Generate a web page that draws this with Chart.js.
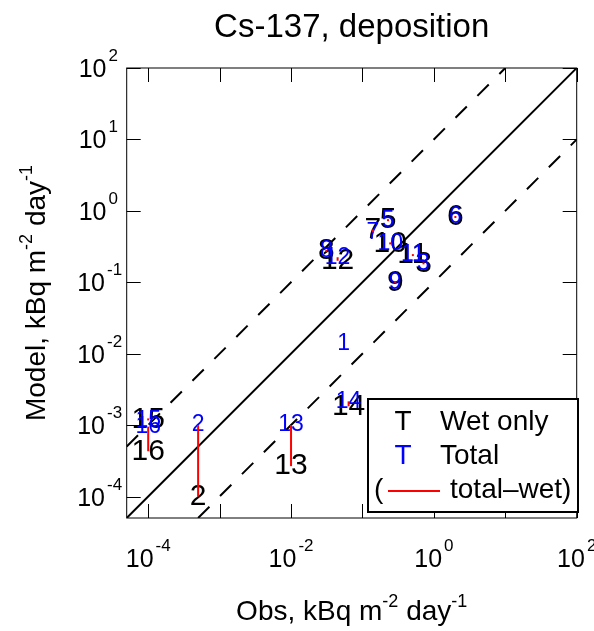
<!DOCTYPE html>
<html>
<head>
<meta charset="utf-8">
<script src="https://cdn.jsdelivr.net/npm/chart.js@4.4.0/dist/chart.umd.min.js"></script>
<style>
  html, body { margin: 0; padding: 0; background: #fff; }
</style>
</head>
<body>
<canvas id="chart" width="594" height="631"></canvas>
<script>
// station numbers and their obs / model deposition, kBq m-2 day-1
const stations = [1, 2, 3, 5, 6, 7, 8, 9, 10, 11, 12, 13, 14, 15, 16]
const obs = [0.0545, 5e-4, 0.716, 0.228, 2.0, 0.14, 0.0312, 0.288, 0.245, 0.508, 0.0449, 0.01, 0.064, 1e-4, 1e-4]
const modelWet = [null, 1e-4, 0.184, 0.74, 0.82, 0.55, 0.274, 0.1, 0.35, 0.24, 0.2, 2.66e-4, 1.83e-3, 1.2e-3, 4.3e-4]
const modelTotal = [0.0137, 1e-3, 0.184, 0.74, 0.82, 0.5, 0.274, 0.1, 0.35, 0.24, 0.224, 1e-3, 2.15e-3, 1.15e-3, 9.5e-4]

const axisRange = [5e-5, 100]
const tickDecades = [-4, -3, -2, -1, 0, 1, 2]
const xTickLabels = [-4, -2, 0, 2]
const yTickLabels = [-4, -3, -2, -1, 0, 1, 2]
const ratioLines = [1, 10, 0.1] // model = ratio * obs

const FONT = '"Liberation Sans", Arial, sans-serif'

// endpoints of a ratio line clipped to the axis box
function ratioLine (r) {
  const [lo, hi] = axisRange
  const x0 = Math.max(lo, lo / r)
  const x1 = Math.min(hi, hi / r)
  return [{ x: x0, y: x0 * r }, { x: x1, y: x1 * r }]
}

// "10" with a raised exponent
function powerWidth (ctx, exp, size, supSize, gap) {
  ctx.font = size + 'px ' + FONT
  const w1 = ctx.measureText('10').width
  ctx.font = supSize + 'px ' + FONT
  return w1 + gap + ctx.measureText(String(exp)).width
}
function drawPower (ctx, exp, x, y, size, supSize, raise, gap) {
  ctx.textAlign = 'left'
  ctx.textBaseline = 'alphabetic'
  ctx.font = size + 'px ' + FONT
  ctx.fillText('10', x, y)
  const w1 = ctx.measureText('10').width
  ctx.font = supSize + 'px ' + FONT
  ctx.fillText(String(exp), x + w1 + gap, y - raise)
}

// text pieces: [text, superscript?]
function drawRich (ctx, parts, cx, y, size, supSize, raise) {
  let total = 0
  parts.forEach(p => {
    ctx.font = (p[1] ? supSize : size) + 'px ' + FONT
    total += ctx.measureText(p[0]).width
  })
  let x = cx - total / 2
  ctx.textAlign = 'left'
  ctx.textBaseline = 'alphabetic'
  parts.forEach(p => {
    ctx.font = (p[1] ? supSize : size) + 'px ' + FONT
    ctx.fillText(p[0], x, p[1] ? y - raise : y)
    x += ctx.measureText(p[0]).width
  })
}

const decor = {
  id: 'decor',
  afterDatasetsDraw (chart) {
    const ctx = chart.ctx
    const xs = chart.scales.x
    const ys = chart.scales.y
    const area = chart.chartArea
    const wetMeta = chart.getDatasetMeta(3)
    const totMeta = chart.getDatasetMeta(4)

    ctx.save()
    // station labels: wet only (black, big) then total (blue)
    ctx.textAlign = 'center'
    ctx.textBaseline = 'middle'
    ctx.fillStyle = '#000'
    ctx.font = '30px ' + FONT
    stations.forEach((s, i) => {
      if (modelWet[i] == null) return
      const p = wetMeta.data[i]
      ctx.fillText(String(s), p.x, p.y)
    })
    ctx.fillStyle = '#0000ff'
    ctx.font = '23px ' + FONT
    stations.forEach((s, i) => {
      if (modelTotal[i] == null) return
      const p = totMeta.data[i]
      ctx.fillText(String(s), p.x, p.y)
    })
    // total - wet segments
    ctx.strokeStyle = '#ff0000'
    ctx.fillStyle = '#ff0000'
    ctx.lineWidth = 2
    stations.forEach((s, i) => {
      if (modelWet[i] == null || modelTotal[i] == null) return
      const a = wetMeta.data[i]
      const b = totMeta.data[i]
      if (Math.abs(a.y - b.y) < 2) {
        ctx.fillRect(a.x - 1, a.y - 1, 2, 2)
      } else {
        ctx.beginPath()
        ctx.moveTo(a.x, a.y)
        ctx.lineTo(b.x, b.y)
        ctx.stroke()
      }
    })

    // frame and inward ticks
    ctx.strokeStyle = '#000'
    ctx.lineWidth = 1
    ctx.strokeRect(area.left, area.top, area.right - area.left, area.bottom - area.top)
    ctx.beginPath()
    tickDecades.forEach(d => {
      const px = Math.round(xs.getPixelForValue(Math.pow(10, d))) + 0.5
      ctx.moveTo(px, area.bottom); ctx.lineTo(px, area.bottom - 14)
      ctx.moveTo(px, area.top); ctx.lineTo(px, area.top + 14)
      const py = Math.round(ys.getPixelForValue(Math.pow(10, d))) + 0.5
      ctx.moveTo(area.left, py); ctx.lineTo(area.left + 14, py)
      ctx.moveTo(area.right, py); ctx.lineTo(area.right - 14, py)
    })
    ctx.stroke()

    // tick labels
    ctx.fillStyle = '#000'
    xTickLabels.forEach(d => {
      const px = xs.getPixelForValue(Math.pow(10, d))
      const w = powerWidth(ctx, d, 25, 17, 2)
      drawPower(ctx, d, px - w / 2, 567, 25, 17, 16, 2)
    })
    ctx.font = '25px ' + FONT
    const w10 = ctx.measureText('10').width
    yTickLabels.forEach(d => {
      const py = ys.getPixelForValue(Math.pow(10, d))
      const right = d < 0 ? 105 : 106.5
      drawPower(ctx, d, right - w10, py + 9, 25, 17, 16, 2)
    })

    // axis titles
    drawRich(ctx, [['Obs, kBq m', false], ['-2', true], [' day', false], ['-1', true]],
      (area.left + area.right) / 2, 620, 28, 18, 13)
    ctx.save()
    ctx.translate(45, (area.top + area.bottom) / 2)
    ctx.rotate(-Math.PI / 2)
    drawRich(ctx, [['Model, kBq m', false], ['-2', true], [' day', false], ['-1', true]],
      0, 0, 28, 18, 13)
    ctx.restore()

    // title
    ctx.font = '33px ' + FONT
    ctx.textAlign = 'center'
    ctx.textBaseline = 'alphabetic'
    ctx.fillText('Cs-137, deposition', (area.left + area.right) / 2, 37)

    // legend box
    const lx = 368, ly = 399, lw = 210, lh = 113
    ctx.fillStyle = '#fff'
    ctx.fillRect(lx, ly, lw, lh)
    ctx.lineWidth = 2
    ctx.strokeStyle = '#000'
    ctx.strokeRect(lx, ly, lw, lh)
    ctx.font = '28px ' + FONT
    ctx.textBaseline = 'middle'
    ctx.textAlign = 'center'
    ctx.fillStyle = '#000'
    ctx.fillText('T', 403, 422)
    ctx.fillStyle = '#0000ff'
    ctx.fillText('T', 403, 456)
    ctx.textAlign = 'left'
    ctx.fillStyle = '#000'
    ctx.fillText('Wet only', 440, 422)
    ctx.fillText('Total', 440, 456)
    ctx.fillText('(', 374, 490)
    ctx.fillText('total\u2013wet)', 450, 490)
    ctx.strokeStyle = '#ff0000'
    ctx.beginPath()
    ctx.moveTo(388, 491)
    ctx.lineTo(440, 491)
    ctx.stroke()
    ctx.restore()
  }
}

const lineStyle = { showLine: true, pointRadius: 0, borderColor: '#000', fill: false }

new Chart(document.getElementById('chart'), {
  type: 'scatter',
  data: {
    datasets: [
      { ...lineStyle, data: ratioLine(ratioLines[0]), borderWidth: 2 },
      { ...lineStyle, data: ratioLine(ratioLines[1]), borderWidth: 2, borderDash: [16, 15] },
      { ...lineStyle, data: ratioLine(ratioLines[2]), borderWidth: 2, borderDash: [16, 15] },
      { label: 'Wet only', data: stations.map((s, i) => ({ x: obs[i], y: modelWet[i] })), pointRadius: 0 },
      { label: 'Total', data: stations.map((s, i) => ({ x: obs[i], y: modelTotal[i] })), pointRadius: 0 }
    ]
  },
  options: {
    responsive: false,
    animation: false,
    layout: { padding: { left: 126.7, right: 17.3, top: 68, bottom: 113 } },
    plugins: { legend: { display: false }, tooltip: { enabled: false } },
    scales: {
      x: { type: 'logarithmic', min: axisRange[0], max: axisRange[1], display: false },
      y: { type: 'logarithmic', min: axisRange[0], max: axisRange[1], display: false }
    }
  },
  plugins: [decor]
})
</script>
</body>
</html>
